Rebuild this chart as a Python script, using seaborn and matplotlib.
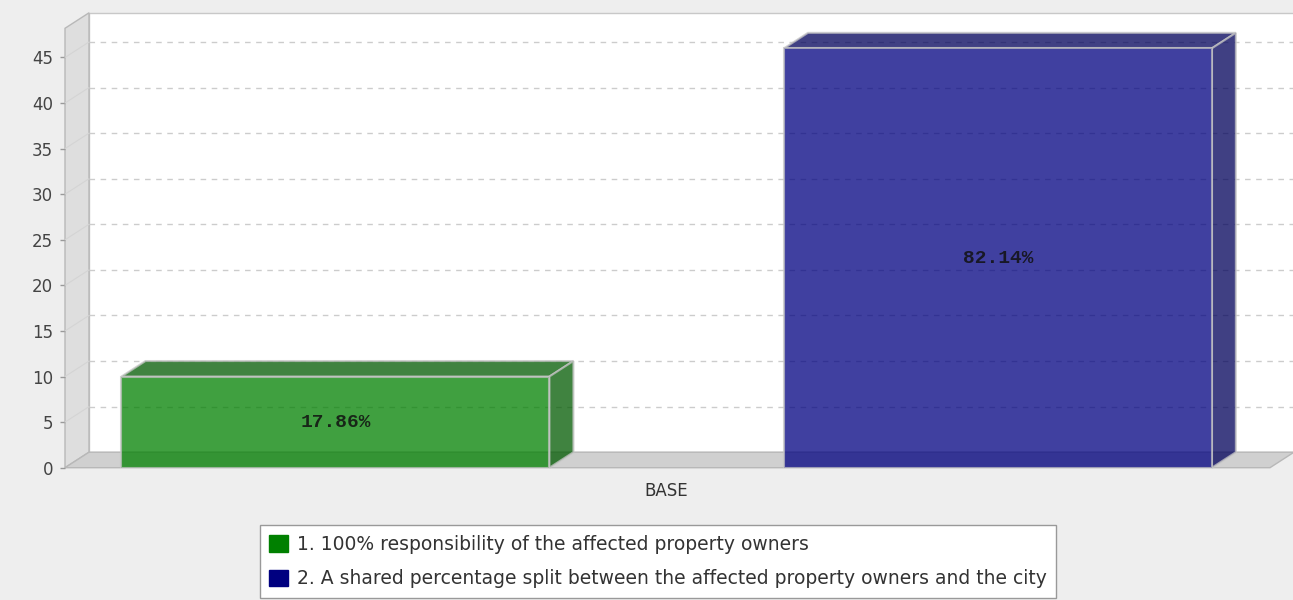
import pandas as pd
import seaborn as sns
import matplotlib.pyplot as plt
from matplotlib.patches import Polygon, Rectangle, Patch

# data
categories = ["BASE"]
series = ["1. 100% responsibility of the affected property owners",
          "2. A shared percentage split between the affected property owners and the city"]
counts = [10, 46]
colors = ["#008000", "#000080"]
top_colors = ["#005A00", "#00005A"]
yticks = list(range(0, 50, 5))

df = pd.DataFrame({"category": categories * len(series), "series": series, "count": counts})

sns.set_theme(style="white")
plt.rcParams["font.family"] = ["DejaVu Sans"]

W, H = 1293, 600
fig = plt.figure(figsize=(W / 100, H / 100), dpi=100, facecolor="#EEEEEE")

# front plane of the 3d box, in pixels
left, right, bottom, top = 65, 1270, 467.7, 28.3
ax = fig.add_axes([left / W, 1 - bottom / H, (right - left) / W, (bottom - top) / H])
ax.set_facecolor("none")

x0, x1 = -0.3633, 0.3643
ymax = 48.2
# depth offset of the 3d effect (24px right, 15.5px up) in data units
ddx = 24 / ((right - left) / (x1 - x0))
ddy = 15.5 / ((bottom - top) / ymax)

sns.barplot(data=df, x="category", y="count", hue="series", palette=colors, saturation=1,
            width=0.8, gap=0.354, alpha=0.75, edgecolor="#C4C4C4", linewidth=1.5,
            errorbar=None, legend=False, ax=ax)
bars = sorted(list(ax.patches), key=lambda p: p.get_x())
for b in bars:
    b.set_zorder(3)

ax.set_xlim(x0, x1)
ax.set_ylim(0, ymax)

# back wall, left wall, floor
ax.add_patch(Rectangle((x0 + ddx, ddy), x1 - x0, ymax, facecolor="white",
                       edgecolor="#C8C8C8", lw=1, clip_on=False, zorder=0))
ax.add_patch(Polygon([(x0, 0), (x0, ymax), (x0 + ddx, ymax + ddy), (x0 + ddx, ddy)],
                     facecolor="#DEDEDE", edgecolor="#B8B8B8", lw=1, clip_on=False, zorder=0.5))
ax.add_patch(Polygon([(x0, 0), (x1, 0), (x1 + ddx, ddy), (x0 + ddx, ddy)],
                     facecolor="#D0D0D0", edgecolor="#B8B8B8", lw=1, clip_on=False, zorder=0.5))

# gridlines on the back wall and faint lines on the left wall
for t in yticks[1:]:
    ax.plot([x0 + ddx, x1 + ddx], [t + ddy, t + ddy], ls=(0, (4, 4)), color="#CCCCCC",
            lw=1, clip_on=False, zorder=1)
    ax.plot([x0, x0 + ddx], [t, t + ddy], color="#D4D4D4", lw=0.8, clip_on=False, zorder=1)

# 3d top and side of each bar, plus the percentage label
total = sum(counts)
for b, v, tc in zip(bars, counts, top_colors):
    x, w, h = b.get_x(), b.get_width(), b.get_height()
    ax.add_patch(Polygon([(x, h), (x + w, h), (x + w + ddx, h + ddy), (x + ddx, h + ddy)],
                         facecolor=tc, alpha=0.75, edgecolor="#C4C4C4", lw=1.5,
                         clip_on=False, zorder=2.5))
    ax.add_patch(Polygon([(x + w, 0), (x + w, h), (x + w + ddx, h + ddy), (x + w + ddx, ddy)],
                         facecolor=tc, alpha=0.75, edgecolor="#C4C4C4", lw=1.5,
                         clip_on=False, zorder=2.5))
    ax.text(x + w / 2, h / 2, f"{v / total * 100:.2f}%", ha="center", va="center",
            family="Liberation Mono", weight="bold", fontsize=14, color="#111111",
            alpha=0.85, zorder=4)

for s in ax.spines.values():
    s.set_visible(False)

ax.set_yticks(yticks)
ax.tick_params(axis="y", left=True, length=3.6, width=1, color="#999999",
               labelsize=12, labelcolor="#444444", pad=5)
ax.tick_params(axis="x", length=0, labelsize=12, labelcolor="#333333", pad=10)
ax.set_xlabel("")
ax.set_ylabel("")

handles = [Patch(facecolor=c, edgecolor=c) for c in colors]
leg = fig.legend(handles, series, loc="center", bbox_to_anchor=(658 / W, 1 - 561.5 / H),
                 frameon=True, fancybox=False, edgecolor="#999999", facecolor="white",
                 framealpha=1, fontsize=13.5, handlelength=1.0, handleheight=1.0,
                 handletextpad=0.5, borderpad=0.5, labelspacing=0.85, labelcolor="#333333")
leg.get_frame().set_linewidth(1)

fig.savefig("out.png", dpi=100, facecolor=fig.get_facecolor())
